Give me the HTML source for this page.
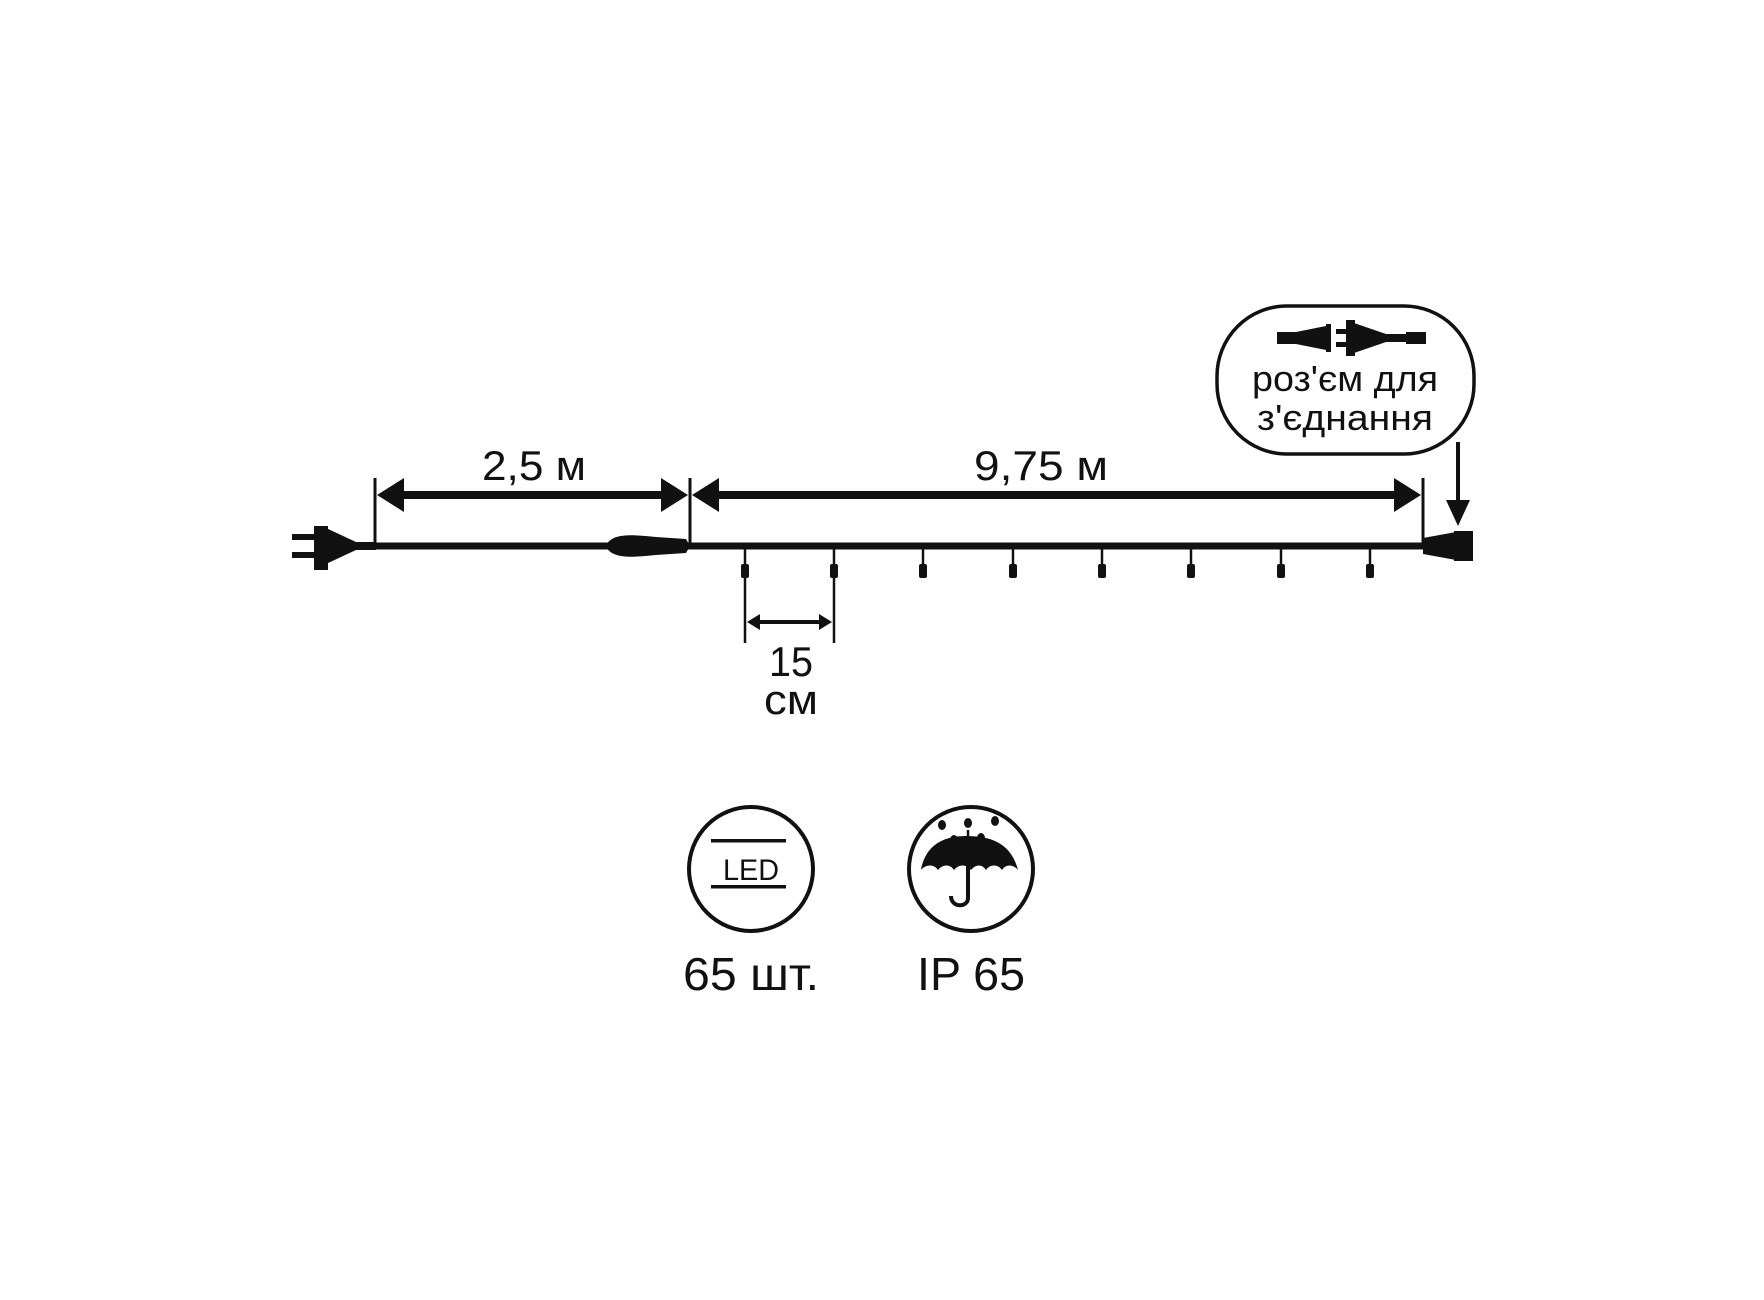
<!DOCTYPE html>
<html><head><meta charset="utf-8"><style>
html,body{margin:0;padding:0;background:#fff;}
svg{display:block;}
text{font-family:"Liberation Sans Narrow","Liberation Sans",sans-serif;fill:#111;}
</style></head><body>
<svg width="1764" height="1300" viewBox="0 0 1764 1300" xmlns="http://www.w3.org/2000/svg">
<g transform="translate(-4,-2)">
<g stroke="#111" fill="#111">
<line x1="360" y1="548" x2="1440" y2="548" stroke-width="7"/>
<rect x="318" y="528" width="14" height="44" stroke="none"/>
<rect x="296" y="536" width="24" height="6" stroke="none"/>
<rect x="296" y="554" width="24" height="6" stroke="none"/>
<polygon points="330,530 360,544 380,544 380,552 360,552 330,566" stroke="none"/>
<path d="M610,548 C615,534 640,537 660,539 L690,541 L694,548 L690,555 L660,557 C640,559 615,562 610,548Z" stroke="none"/>
<line x1="379" y1="480" x2="379" y2="550" stroke-width="3"/>
<line x1="694" y1="480" x2="694" y2="550" stroke-width="3"/>
<line x1="1427" y1="480" x2="1427" y2="550" stroke-width="3"/>
<line x1="400" y1="497" x2="672" y2="497" stroke-width="8"/>
<polygon points="381,497 408,480 408,514" stroke="none"/>
<polygon points="692,497 665,480 665,514" stroke="none"/>
<line x1="716" y1="497" x2="1405" y2="497" stroke-width="8"/>
<polygon points="696,497 723,480 723,514" stroke="none"/>
<polygon points="1425,497 1398,480 1398,514" stroke="none"/>
<polygon points="1427,540 1460,534 1460,562 1427,556" stroke="none"/>
<rect x="1458" y="533" width="19" height="30" stroke="none"/>
<line x1="1462" y1="444" x2="1462" y2="505" stroke-width="4"/>
<polygon points="1450,502 1474,502 1462,528" stroke="none"/>
<g stroke-width="2.5">
<line x1="749" y1="548" x2="749" y2="645"/><line x1="838" y1="548" x2="838" y2="645"/>
<line x1="927" y1="548" x2="927" y2="580"/><line x1="1017" y1="548" x2="1017" y2="580"/>
<line x1="1106" y1="548" x2="1106" y2="580"/><line x1="1195" y1="548" x2="1195" y2="580"/>
<line x1="1285" y1="548" x2="1285" y2="580"/><line x1="1374" y1="548" x2="1374" y2="580"/>
</g>
<g stroke="none">
<rect x="745" y="566" width="8" height="14" rx="2"/><rect x="834" y="566" width="8" height="14" rx="2"/>
<rect x="923" y="566" width="8" height="14" rx="2"/><rect x="1013" y="566" width="8" height="14" rx="2"/>
<rect x="1102" y="566" width="8" height="14" rx="2"/><rect x="1191" y="566" width="8" height="14" rx="2"/>
<rect x="1281" y="566" width="8" height="14" rx="2"/><rect x="1370" y="566" width="8" height="14" rx="2"/>
</g>
<line x1="758" y1="624" x2="830" y2="624" stroke-width="4"/>
<polygon points="751,624 764,616 764,632" stroke="none"/>
<polygon points="836,624 823,616 823,632" stroke="none"/>
<rect x="1221" y="308" width="257" height="148" rx="70" ry="70" fill="none" stroke-width="3.5"/>
<rect x="1281" y="334" width="20" height="12" stroke="none"/>
<polygon points="1300,334 1330,328 1330,352 1300,346" stroke="none"/>
<rect x="1330" y="326" width="5" height="28" stroke="none"/>
<rect x="1340" y="331" width="12" height="5" stroke="none"/>
<rect x="1340" y="344" width="12" height="5" stroke="none"/>
<rect x="1350" y="322" width="9" height="36" stroke="none"/>
<polygon points="1358,325 1390,336 1412,336 1412,344 1390,344 1358,355" stroke="none"/>
<rect x="1410" y="334" width="20" height="12" stroke="none"/>
<circle cx="755" cy="871" r="62" fill="none" stroke-width="4"/>
<rect x="715" y="841" width="75" height="3.5" stroke="none"/>
<rect x="715" y="887" width="75" height="3.5" stroke="none"/>
<circle cx="975" cy="871" r="62" fill="none" stroke-width="4"/>
<path d="M925,872 C930,845 950,838 970,838 C995,838 1015,845 1022,872 C1017,866 1010,866 1006,872 C1002,866 994,866 990,872 C986,866 980,866 975,872 C970,866 963,866 958,872 C954,866 947,866 942,872 C938,866 930,866 925,872Z" stroke="none"/>
<line x1="972" y1="846" x2="972" y2="832" stroke-width="2.5"/>
<path d="M972,848 L972,900 C972,910 955,910 955,898" fill="none" stroke-width="4"/>
<g stroke="none">
<ellipse cx="946" cy="827" rx="4" ry="5"/><ellipse cx="972" cy="825" rx="4" ry="5"/><ellipse cx="999" cy="823" rx="4" ry="5"/>
<ellipse cx="958" cy="842" rx="4" ry="5"/><ellipse cx="985" cy="840" rx="4" ry="5"/>
</g>
</g>
<text x="538" y="482" font-size="42" text-anchor="middle" textLength="104" lengthAdjust="spacingAndGlyphs">2,5 м</text>
<text x="1045" y="482" font-size="42" text-anchor="middle" textLength="134" lengthAdjust="spacingAndGlyphs">9,75 м</text>
<text x="795" y="678" font-size="42" text-anchor="middle" textLength="44" lengthAdjust="spacingAndGlyphs">15</text>
<text x="795" y="716" font-size="42" text-anchor="middle" textLength="54" lengthAdjust="spacingAndGlyphs">см</text>
<text x="1349" y="393" font-size="36" text-anchor="middle" textLength="186" lengthAdjust="spacingAndGlyphs">роз'єм для</text>
<text x="1349" y="432" font-size="36" text-anchor="middle" textLength="176" lengthAdjust="spacingAndGlyphs">з'єднання</text>
<text x="755" y="882" font-size="30" text-anchor="middle" textLength="56" lengthAdjust="spacingAndGlyphs">LED</text>
<text x="755" y="992" font-size="46" text-anchor="middle" textLength="136" lengthAdjust="spacingAndGlyphs">65 шт.</text>
<text x="975" y="992" font-size="46" text-anchor="middle" textLength="108" lengthAdjust="spacingAndGlyphs">IP 65</text>
</g>
</svg>
</body></html>
